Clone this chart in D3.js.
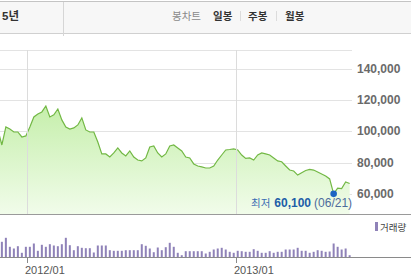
<!DOCTYPE html>
<html>
<head>
<meta charset="utf-8">
<script src="https://cdn.jsdelivr.net/npm/d3@7"></script>
<style>
  body { margin: 0; background: #fff; }
  svg { display: block; font-family: "Liberation Sans", "Noto Sans CJK KR", sans-serif; }
</style>
</head>
<body>
<div id="chart"></div>
<script>
// weekly closing price (KRW), Fridays from 2011-11-11
const priceVals = [100900, 91300, 102800, 101500, 99600, 99600, 96400, 97100, 102800, 109200,
  111100, 112400, 116200, 109200, 110500, 114300, 107300, 102800, 101500, 102200,
  104100, 108600, 100900, 99600, 99600, 93200, 85600, 85600, 83600, 86200,
  89400, 86200, 84300, 87500, 83600, 81700, 81100, 83000, 90000, 90700,
  86200, 83600, 85600, 90700, 91300, 89400, 87500, 83600, 83000, 79200,
  77900, 77300, 76600, 76600, 77900, 81700, 84900, 88100, 88400, 88800,
  88100, 84900, 82700, 83000, 81700, 84900, 86200, 85600, 84900, 83000,
  81100, 80600, 77900, 75300, 74700, 72100, 73600, 75000, 75700, 75300,
  74100, 72800, 71500, 69600, 60100, 63800, 63500, 67700, 66700];

// weekly volume (thousand shares)
const volumeVals = [150, 157, 197, 107, 90, 113, 47, 107, 107, 140,
  67, 127, 107, 133, 120, 113, 133, 197, 123, 73,
  113, 97, 93, 93, 50, 120, 120, 120, 73, 67,
  67, 67, 73, 73, 73, 73, 133, 117, 90, 53,
  100, 73, 103, 147, 107, 47, 23, 63, 63, 63,
  63, 63, 40, 57, 80, 90, 97, 80, 57, 47,
  67, 63, 57, 57, 83, 67, 47, 47, 63, 47,
  57, 57, 80, 80, 80, 97, 67, 67, 47, 57,
  73, 67, 57, 60, 140, 107, 80, 90, 23];

const priceTicks = [60000, 80000, 100000, 120000, 140000];
const xTickDates = [new Date(2012, 0, 1), new Date(2013, 0, 1)];
const xTickLabels = ["2012/01", "2013/01"];
const lowLabel = { prefix: "최저", value: "60,100", date: "(06/21)" };
const headerLeft = "5년";
const headerItems = ["봉차트", "일봉", "주봉", "월봉"];

const dates = d3.timeFriday.range(new Date(2011, 10, 11), new Date(2013, 6, 20));
const data = dates.map((d, i) => ({ date: d, price: priceVals[i], vol: volumeVals[i] }));

const width = 411, height = 279;
const plotTop = 50, plotBottom = 214, plotRight = 352;

const svg = d3.select("#chart").append("svg")
  .attr("width", width).attr("height", height);

// ---- header bar
svg.append("rect").attr("x", 0).attr("y", 1).attr("width", width).attr("height", 32)
  .attr("fill", "#f7f7f7");
svg.append("line").attr("x1", 0).attr("x2", width).attr("y1", 1.5).attr("y2", 1.5)
  .attr("stroke", "#c4c4c4");
svg.append("line").attr("x1", 0).attr("x2", width).attr("y1", 33.5).attr("y2", 33.5)
  .attr("stroke", "#d0d0d0");
svg.append("line").attr("x1", 63.5).attr("x2", 63.5).attr("y1", 2).attr("y2", 36)
  .attr("stroke", "#d6d6d6");
svg.append("text").attr("x", 2).attr("y", 20).text(headerLeft)
  .attr("font-size", 11.5).attr("font-weight", "bold").attr("fill", "#333");

const hdr = svg.append("text").attr("y", 20).attr("font-size", 10.5);
hdr.append("tspan").attr("x", 172).attr("fill", "#8a8a8a").text(headerItems[0]);
hdr.append("tspan").attr("x", 213).attr("fill", "#333").attr("font-weight", "bold").text(headerItems[1]);
hdr.append("tspan").attr("x", 248).attr("fill", "#333").attr("font-weight", "bold").text(headerItems[2]);
hdr.append("tspan").attr("x", 285).attr("fill", "#333").attr("font-weight", "bold").text(headerItems[3]);
[240.5, 276.5].forEach(x => svg.append("line").attr("x1", x).attr("x2", x)
  .attr("y1", 11).attr("y2", 21).attr("stroke", "#dcdcdc"));

// ---- scales
const x = d3.scaleTime().domain(xTickDates).range([27, 236]);
const y = d3.scaleLinear().domain([60000, 140000]).range([194, 68.7]);
const yVol = d3.scaleLinear().domain([0, 200]).range([257.5, 237.5]);

svg.append("clipPath").attr("id", "plotclip").append("rect")
  .attr("x", 0).attr("y", plotTop).attr("width", plotRight).attr("height", plotBottom - plotTop);

const grad = svg.append("defs").append("linearGradient").attr("id", "fillg")
  .attr("gradientUnits", "userSpaceOnUse").attr("x1", 0).attr("x2", 0).attr("y1", 100).attr("y2", plotBottom);
grad.append("stop").attr("offset", 0).attr("stop-color", "#c3eea8");
grad.append("stop").attr("offset", 1).attr("stop-color", "#f1fcea");

// ---- grid
const grid = svg.append("g").attr("stroke", "#e3e3e3").attr("shape-rendering", "crispEdges");
grid.append("line").attr("x1", 0).attr("x2", plotRight).attr("y1", plotTop).attr("y2", plotTop);
grid.selectAll(".h").data(priceTicks).join("line")
  .attr("x1", 0).attr("x2", plotRight)
  .attr("y1", d => Math.round(y(d)) + 0.5).attr("y2", d => Math.round(y(d)) + 0.5);

// ---- area + line
const plot = svg.append("g").attr("clip-path", "url(#plotclip)");
plot.append("path").datum(data)
  .attr("d", d3.area().x(d => x(d.date)).y0(plotBottom).y1(d => y(d.price)))
  .attr("fill", "url(#fillg)");

svg.append("g").attr("stroke", "#dcdcdc").attr("shape-rendering", "crispEdges")
  .selectAll("line").data(xTickDates).join("line")
  .attr("x1", d => Math.round(x(d)) + 0.5).attr("x2", d => Math.round(x(d)) + 0.5)
  .attr("y1", plotTop).attr("y2", plotBottom);

plot.append("path").datum(data)
  .attr("d", d3.line().x(d => x(d.date)).y(d => y(d.price)))
  .attr("fill", "none").attr("stroke", "#72b844").attr("stroke-width", 1.2);

svg.append("line").attr("x1", 0).attr("x2", width).attr("y1", plotBottom + 0.5).attr("y2", plotBottom + 0.5)
  .attr("stroke", "#9a9a9a");

// ---- price labels
svg.append("g").selectAll("text").data(priceTicks).join("text")
  .attr("x", 357).attr("y", d => y(d) + 4)
  .attr("font-size", 12).attr("font-weight", "bold").attr("fill", "#6a6a6a")
  .text(d => d3.format(",")(d));

// ---- low marker
const low = data[d3.minIndex(data, d => d.price)];
svg.append("circle").attr("cx", x(low.date)).attr("cy", y(low.price)).attr("r", 3.3)
  .attr("fill", "#1c64c2");
const lt = svg.append("text").attr("x", 251).attr("y", 207).attr("font-size", 12);
lt.append("tspan").attr("fill", "#3a6db3").attr("font-size", 10.5).text(lowLabel.prefix);
lt.append("tspan").attr("dx", 4).attr("fill", "#1d5ea8").attr("font-weight", "bold").text(lowLabel.value);
lt.append("tspan").attr("dx", 3).attr("fill", "#4d6c9c").text(lowLabel.date);

// ---- volume
const volClip = svg.append("clipPath").attr("id", "volclip").append("rect")
  .attr("x", 0).attr("y", 220).attr("width", plotRight).attr("height", 40);
svg.append("g").attr("clip-path", "url(#volclip)")
  .selectAll("rect").data(data).join("rect")
  .attr("x", d => x(d.date) - 1).attr("width", 2)
  .attr("y", d => yVol(d.vol)).attr("height", d => yVol(0) - yVol(d.vol))
  .attr("fill", "#8f82b8");

svg.append("line").attr("x1", 0).attr("x2", width).attr("y1", 257.5).attr("y2", 257.5)
  .attr("stroke", "#8a8a8a");

const xAxis = svg.append("g");
xAxis.selectAll("line").data(xTickDates).join("line")
  .attr("x1", d => Math.round(x(d)) + 0.5).attr("x2", d => Math.round(x(d)) + 0.5)
  .attr("y1", 258).attr("y2", 263).attr("stroke", "#8a8a8a");
xAxis.selectAll("text").data(xTickDates).join("text")
  .attr("x", d => x(d) - 2).attr("y", 274)
  .attr("font-size", 11).attr("fill", "#555")
  .text((d, i) => xTickLabels[i]);

// legend
svg.append("rect").attr("x", 375).attr("y", 222).attr("width", 3).attr("height", 9).attr("fill", "#8f82b8");
svg.append("text").attr("x", 380).attr("y", 230.5).attr("font-size", 9.5).attr("fill", "#444").text("거래량");
</script>
</body>
</html>
